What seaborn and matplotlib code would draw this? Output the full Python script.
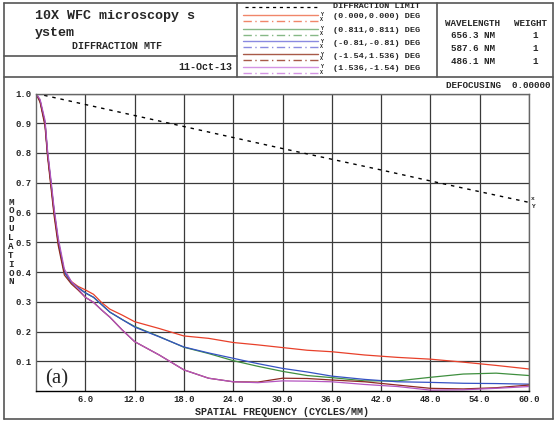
import matplotlib
matplotlib.use("Agg")
import matplotlib.pyplot as plt
import seaborn as sns
import pandas as pd
from matplotlib.lines import Line2D
from matplotlib.ticker import MultipleLocator

# spatial frequency samples (cycles/mm)
freq = [0, 0.5, 1.1, 1.4, 1.8, 2.2, 2.7, 3.45, 4.3, 5.1, 6, 7, 8, 9, 10.5, 12,
        15, 18, 21, 24, 27, 30, 33, 36, 40, 44, 48, 52, 56, 60]

mtf_000 = [1.0, 0.975, 0.9, 0.8, 0.7, 0.6, 0.5, 0.4, 0.368, 0.352, 0.34, 0.325, 0.297,
           0.275, 0.255, 0.233, 0.21, 0.185, 0.177, 0.163, 0.155, 0.146, 0.137, 0.132,
           0.121, 0.113, 0.107, 0.097, 0.086, 0.074]
mtf_081 = [1.0, 0.975, 0.9, 0.8, 0.705, 0.605, 0.505, 0.4, 0.365, 0.348, 0.33, 0.315, 0.29,
           0.265, 0.24, 0.217, 0.183, 0.147, 0.126, 0.102, 0.083, 0.066, 0.052, 0.045,
           0.034, 0.034, 0.046, 0.057, 0.060, 0.052]
mtf_m081 = [1.0, 0.975, 0.9, 0.8, 0.705, 0.605, 0.505, 0.4, 0.365, 0.348, 0.33, 0.315, 0.29,
            0.265, 0.24, 0.215, 0.182, 0.148, 0.128, 0.11, 0.092, 0.076, 0.064, 0.05,
            0.039, 0.031, 0.029, 0.026, 0.025, 0.023]
mtf_154a = [1.0, 0.97, 0.89, 0.79, 0.69, 0.59, 0.49, 0.39, 0.36, 0.34, 0.315, 0.298, 0.272,
            0.248, 0.205, 0.166, 0.121, 0.071, 0.043, 0.031, 0.03, 0.043, 0.042, 0.037,
            0.031, 0.02, 0.009, 0.007, 0.011, 0.02]
mtf_154b = [1.0, 0.98, 0.91, 0.81, 0.715, 0.615, 0.515, 0.41, 0.368, 0.345, 0.315, 0.298,
            0.272, 0.248, 0.205, 0.166, 0.121, 0.071, 0.043, 0.031, 0.028, 0.034, 0.033,
            0.031, 0.022, 0.015, 0.003, 0.004, 0.009, 0.015]

diff_freq = [0, 6, 12, 18, 24, 30, 36, 42, 48, 54, 60]
diff_limit = [1.0, 0.963, 0.926, 0.889, 0.852, 0.815, 0.779, 0.743, 0.706, 0.670, 0.634]

field_labels = ["(0.000,0.000) DEG", "(0.811,0.811) DEG", "(-0.81,-0.81) DEG",
                "(-1.54,1.536) DEG", "(1.536,-1.54) DEG"]
field_values = [mtf_000, mtf_081, mtf_m081, mtf_154a, mtf_154b]
curve_colors = ["#e8402a", "#3f8f3f", "#3552c4", "#8e2a22", "#b455c0"]
legend_colors = ["#f0866a", "#86b886", "#8a8ae0", "#a85a48", "#d494e4"]

wavelengths = ["656.3 NM", "587.6 NM", "486.1 NM"]
weights = ["1", "1", "1"]

sns.set_style("white")
plt.rcParams["font.family"] = ["Liberation Mono", "DejaVu Sans Mono"]
plt.rcParams["font.weight"] = "bold"

W, H = 557, 422
fig = plt.figure(figsize=(W / 100, H / 100), dpi=100)


def fx(px):
    return px / W


def fy(py):
    return 1 - py / H


def hline(x0, x1, y, **kw):
    fig.add_artist(Line2D([fx(x0), fx(x1)], [fy(y), fy(y)], transform=fig.transFigure, **kw))


def vline(x, y0, y1, **kw):
    fig.add_artist(Line2D([fx(x), fx(x)], [fy(y0), fy(y1)], transform=fig.transFigure, **kw))


# frame and header boxes
box = dict(color="#555555", lw=1.2)
hline(4, 553, 3, **box)
hline(4, 553, 419, **box)
vline(4, 3, 419, **box)
vline(553, 3, 419, **box)
hline(4, 553, 77, **box)
hline(4, 237, 56, **box)
vline(237, 3, 77, **box)
vline(437, 3, 77, **box)

fig.text(fx(35), fy(16), "10X WFC microscopy s", fontsize=9.6, va="center")
fig.text(fx(35), fy(33), "ystem", fontsize=9.6, va="center")
fig.text(fx(72), fy(46), "DIFFRACTION MTF", fontsize=7.2, va="center")
fig.text(fx(232), fy(67), "11-Oct-13", fontsize=7.2, va="center", ha="right")

# legend block
hline(245, 318, 7, color="black", lw=0.9, ls=(0, (2.5, 3)))
fig.text(fx(333), fy(7), "DIFFRACTION LIMIT", fontsize=6.1, va="center")
row_y = [16.5, 30.5, 43.3, 56, 69]
for lab, col, ry in zip(field_labels, legend_colors, row_y):
    hline(243, 318, ry - 2, color=col, lw=1.0)
    hline(243, 318, ry + 4, color=col, lw=1.0, ls=(0, (6, 2.5, 1, 2.5)))
    fig.text(fx(322), fy(ry - 2), "Y", fontsize=3.6, va="center", ha="center")
    fig.text(fx(322), fy(ry + 3), "X", fontsize=3.6, va="center", ha="center")
    fig.text(fx(333), fy(ry), lab, fontsize=6.1, va="center")

# wavelength block
fig.text(fx(445), fy(24), "WAVELENGTH", fontsize=6.7, va="center")
fig.text(fx(514), fy(24), "WEIGHT", fontsize=6.7, va="center")
for i, (wl, wt) in enumerate(zip(wavelengths, weights)):
    fig.text(fx(451), fy(36 + 12.5 * i), wl, fontsize=6.7, va="center")
    fig.text(fx(535), fy(36 + 12.5 * i), wt, fontsize=6.7, va="center", ha="center")

fig.text(fx(551), fy(85), "DEFOCUSING  0.00000", fontsize=6.7, va="center", ha="right")

# main MTF plot
ax = fig.add_axes([fx(36), fy(391), fx(529) - fx(36), fy(93.5) - fy(391)])
sns.lineplot(x=diff_freq, y=diff_limit, ax=ax, color="black", lw=1.0,
             linestyle=(0, (2.5, 3.5)))
for vals, col in zip(field_values, curve_colors):
    df = pd.DataFrame({"freq": freq, "mtf": vals})
    sns.lineplot(data=df, x="freq", y="mtf", ax=ax, color=col, lw=0.9, sort=False)

ax.set_xlim(0, 60)
ax.set_ylim(0, 1.0)
ax.xaxis.set_major_locator(MultipleLocator(6))
ax.xaxis.set_minor_locator(MultipleLocator(2))
ax.set_yticks([0.1, 0.2, 0.3, 0.4, 0.5, 0.6, 0.7, 0.8, 0.9, 1.0])
ax.set_xticks([6, 12, 18, 24, 30, 36, 42, 48, 54, 60])
ax.set_xticklabels(["6.0", "12.0", "18.0", "24.0", "30.0", "36.0", "42.0", "48.0",
                    "54.0", "60.0"])
ax.grid(True, which="major", color="#3a3a3a", lw=0.9)
ax.tick_params(axis="both", which="major", length=0, labelsize=6.4, pad=3)
ax.tick_params(axis="x", which="minor", direction="in", length=4, color="#333333", width=0.8)
ax.tick_params(axis="x", which="major", pad=3)
for sp in ax.spines.values():
    sp.set_color("#666666")
    sp.set_linewidth(1.0)
ax.spines["bottom"].set_color("black")
ax.set_xlabel("")
ax.set_ylabel("")

fig.text(fx(282), fy(412), "SPATIAL FREQUENCY (CYCLES/MM)", fontsize=7.2, va="center",
         ha="center")
fig.text(fx(11), fy(242), "\n".join("MODULATION"), fontsize=6.7, va="center", ha="center",
         linespacing=0.98)
fig.text(fx(533), fy(198), "x", fontsize=4.5, va="center", ha="center")
fig.text(fx(533), fy(207), "Y", fontsize=4.5, va="center", ha="center")
fig.text(fx(57), fy(379), "(a)", fontsize=15, va="center", ha="center",
         family="Liberation Serif", weight="normal")

fig.savefig("out.png", dpi=100)
